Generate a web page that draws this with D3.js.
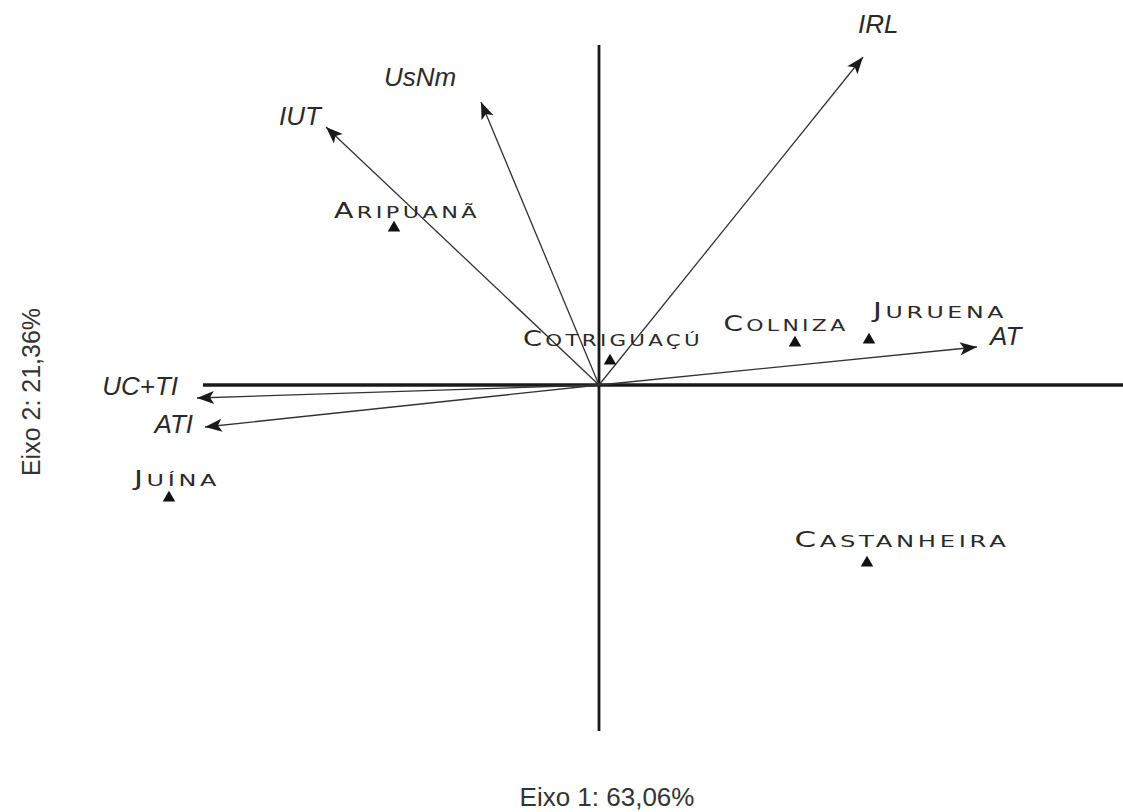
<!DOCTYPE html>
<html>
<head>
<meta charset="utf-8">
<script src="https://cdn.jsdelivr.net/npm/d3@7"></script>
<style>
  html, body { margin: 0; padding: 0; background: #fff; }
  svg { display: block; }
</style>
</head>
<body>
<div id="grafico"></div>
<script>
// variaveis (setas do biplot)
const variaveis = ["IRL", "UsNm", "IUT", "AT", "UC+TI", "ATI"];
const variaveisEixo1 = [0.66, -0.295, -0.6825, 0.945, -1.005, -0.985];
const variaveisEixo2 = [0.82, 0.7075, 0.645, 0.095, -0.0325, -0.105];

// municipios (triangulos)
const municipios = ["Aripuanã", "Cotriguaçú", "Colniza", "Juruena", "Juína", "Castanheira"];
const municipiosEixo1 = [-0.5125, 0.0275, 0.49, 0.675, -1.075, 0.67];
const municipiosEixo2 = [0.3925, 0.06, 0.105, 0.1125, -0.2825, -0.445];

const tituloEixo1 = "Eixo 1: 63,06%";
const tituloEixo2 = "Eixo 2: 21,36%";

const largura = 1123, altura = 812;
const x = d3.scaleLinear().domain([-1, 1]).range([199, 999]);
const y = d3.scaleLinear().domain([-1, 1]).range([785, -15]);

// deslocamento dos rotulos (px)
const rotuloVariavel = {
  "IRL":   {dx: -5,  dy: -24, anchor: "start"},
  "UsNm":  {dx: -97, dy: -16, anchor: "start"},
  "IUT":   {dx: -47, dy: -2,  anchor: "start"},
  "AT":    {dx: 13,  dy: -2,  anchor: "start"},
  "UC+TI": {dx: -19, dy: -3,  anchor: "end"},
  "ATI":   {dx: -12, dy: 6,   anchor: "end"}
};
const rotuloMunicipio = {
  "Aripuanã":    {dx: 13,  dy: -10, w: 146},
  "Cotriguaçú":  {dx: 3,   dy: -15, w: 180},
  "Colniza":     {dx: -9,  dy: -12, w: 125},
  "Juruena":     {dx: 71,  dy: -22, w: 134},
  "Juína":       {dx: 8,   dy: -12, w: 86},
  "Castanheira": {dx: 35,  dy: -16, w: 215}
};

const svg = d3.select("#grafico").append("svg")
  .attr("width", largura).attr("height", altura);

svg.append("defs").append("marker")
  .attr("id", "seta")
  .attr("markerUnits", "userSpaceOnUse")
  .attr("viewBox", "-18 -7 19 14")
  .attr("refX", 0).attr("refY", 0)
  .attr("markerWidth", 19).attr("markerHeight", 14)
  .attr("orient", "auto")
  .append("path")
    .attr("d", "M0,0L-17,-6.5L-13,0L-17,6.5Z")
    .attr("fill", "#1a1a1a");

// eixos
svg.append("line")
  .attr("x1", x(-0.99)).attr("x2", largura)
  .attr("y1", y(0)).attr("y2", y(0))
  .attr("stroke", "#1a1a1a").attr("stroke-width", 3.5);
svg.append("line")
  .attr("x1", x(0)).attr("x2", x(0))
  .attr("y1", y(0.85)).attr("y2", y(-0.865))
  .attr("stroke", "#1a1a1a").attr("stroke-width", 2.8);

// setas
const dadosSetas = variaveis.map((nome, i) => ({nome, e1: variaveisEixo1[i], e2: variaveisEixo2[i]}));

svg.selectAll(".seta").data(dadosSetas).enter().append("line")
  .attr("class", "seta")
  .attr("x1", x(0)).attr("y1", y(0))
  .attr("x2", d => x(d.e1)).attr("y2", d => y(d.e2))
  .attr("stroke", "#333").attr("stroke-width", 1.3)
  .attr("marker-end", "url(#seta)");

svg.selectAll(".rotuloSeta").data(dadosSetas).enter().append("text")
  .attr("class", "rotuloSeta")
  .attr("x", d => x(d.e1) + rotuloVariavel[d.nome].dx)
  .attr("y", d => y(d.e2) + rotuloVariavel[d.nome].dy)
  .attr("text-anchor", d => rotuloVariavel[d.nome].anchor)
  .attr("font-family", "'Liberation Sans', Arial, sans-serif")
  .attr("font-style", "italic")
  .attr("font-size", 26)
  .attr("fill", "#2a2a2a")
  .text(d => d.nome);

// municipios
const dadosMunicipios = municipios.map((nome, i) => ({nome, e1: municipiosEixo1[i], e2: municipiosEixo2[i]}));

svg.selectAll(".ponto").data(dadosMunicipios).enter().append("path")
  .attr("class", "ponto")
  .attr("d", d3.symbol().type(d3.symbolTriangle).size(68))
  .attr("transform", d => `translate(${x(d.e1)},${y(d.e2)})`)
  .attr("fill", "#111");

// versalete largo: glifos esticados ate a largura medida
const rotulos = svg.selectAll(".rotuloPonto").data(dadosMunicipios).enter().append("text")
  .attr("class", "rotuloPonto")
  .attr("x", d => x(d.e1) + rotuloMunicipio[d.nome].dx - rotuloMunicipio[d.nome].w / 2)
  .attr("y", d => y(d.e2) + rotuloMunicipio[d.nome].dy)
  .attr("textLength", d => rotuloMunicipio[d.nome].w)
  .attr("lengthAdjust", "spacingAndGlyphs")
  .attr("letter-spacing", 2.5)
  .attr("font-family", "'DejaVu Sans', sans-serif")
  .attr("fill", "#2a2a2a");

rotulos.append("tspan")
  .attr("font-size", 21)
  .text(d => d.nome.charAt(0).toUpperCase());
rotulos.append("tspan")
  .attr("font-size", 16.5)
  .text(d => d.nome.slice(1).toUpperCase());

// titulos dos eixos
svg.append("text")
  .attr("x", 607).attr("y", 806)
  .attr("text-anchor", "middle")
  .attr("font-family", "'Liberation Sans', Arial, sans-serif")
  .attr("font-size", 26)
  .attr("fill", "#333")
  .text(tituloEixo1);

svg.append("text")
  .attr("transform", "translate(40,392) rotate(-90)")
  .attr("text-anchor", "middle")
  .attr("font-family", "'Liberation Sans', Arial, sans-serif")
  .attr("font-size", 25)
  .attr("fill", "#333")
  .text(tituloEixo2);
</script>
</body>
</html>
